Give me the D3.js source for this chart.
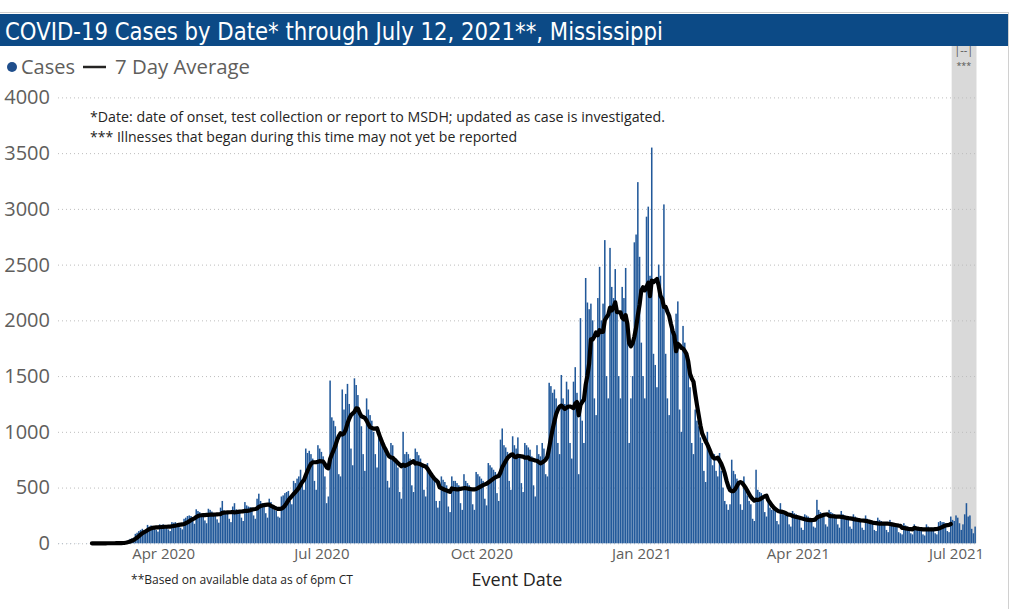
<!DOCTYPE html>
<html><head><meta charset="utf-8">
<script src="https://cdn.jsdelivr.net/npm/d3@7"></script>
<style>html,body{margin:0;padding:0;background:#fff;overflow:hidden}</style>
</head><body>
<svg id="chart" width="1029" height="609"></svg>
<script>
// ---- data: daily cases by event date ----
const feb2020 = [1,0,1,0,0,1,0,1,0,0,1,0,1,0,0,0,1,0,0,0,0,0,0,1,0,0,0,0,1];
const mar2020 = [0,1,0,2,1,3,2,4,8,12,20,28,40,45,50,85,95,110,120,130,110,100,165,150,160,155,150,120,105,170,165];
const apr2020 = [170,160,150,125,110,190,185,190,180,175,140,125,220,230,245,250,245,200,175,305,290,280,265,255,205,180,310,300,285,270];
const may2020 = [260,215,185,320,380,295,280,270,220,190,330,360,305,295,285,230,200,370,340,330,325,320,250,220,400,445,380,360,340,270,230];
const jun2020 = [400,370,330,300,290,240,230,420,430,450,460,470,380,350,560,540,580,600,660,560,480,850,810,830,800,760,560,480,880,850];
const jul2020 = [820,780,600,360,420,1460,1130,1100,1050,950,620,600,1380,1200,1340,1430,1250,850,700,1480,1420,1330,1150,1050,800,650,1300,1200,1150,1100,1000];
const aug2020 = [800,680,960,900,880,850,800,560,500,900,880,760,760,680,460,400,1000,800,820,800,760,520,460,850,820,790,760,700,480,420,720];
const sep2020 = [650,620,600,560,380,320,380,600,570,550,520,330,280,600,560,560,540,520,360,300,620,560,540,520,500,350,300,640,620,600];
const oct2020 = [580,560,400,340,720,700,680,660,640,450,380,930,1030,880,860,820,560,480,960,880,850,950,800,540,460,900,880,860,840,780,520];
const nov2020 = [420,880,800,780,900,850,620,600,1440,1410,1350,1380,1300,900,800,1510,1300,1250,1450,1380,900,760,1450,1580,1350,620,2020,1100,900,2380];
const dec2020 = [2160,2100,2150,2000,1300,1150,2200,2480,2000,2150,2720,1500,1300,2650,2300,2200,2460,2100,1500,1300,2300,2200,2470,1900,900,1300,1500,2700,2770,3240,2570];
const jan2021 = [1800,1500,1300,2930,3020,2400,3550,1700,1600,1400,2500,2400,2200,3040,1700,1300,1150,2000,1950,1900,2060,2170,1200,1000,1950,1800,1700,1600,1400,900,800];
const feb2021 = [1200,1100,1050,950,900,650,550,1000,850,780,700,800,650,600,810,650,500,380,350,300,350,750,650,620,580,540,350,300];
const mar2021 = [600,500,430,380,350,220,200,660,480,460,450,420,280,240,380,320,300,330,310,200,170,360,300,280,270,250,170,150,290,270,260];
const apr2021 = [240,220,140,120,260,250,240,230,220,150,140,390,300,280,270,260,170,150,300,280,270,260,250,170,140,290,260,250,240,230];
const may2021 = [150,130,260,240,230,220,210,140,120,250,220,200,190,180,120,110,230,210,200,190,180,120,100,210,190,180,170,160,100,90,80];
const jun2021 = [180,160,150,140,90,80,170,150,140,130,130,80,70,170,150,140,140,130,90,80,190,200,190,190,180,110,100,240,210,200];
const jul2021 = [250,230,180,120,170,260,360,240,250,130,90,150];

const firstDay = "2020-02-01";
const avgFirstDay = "2020-02-20";
const avgLastDay = "2021-06-28";
const lagFirstDay = "2021-06-29";   // grey "may not yet be reported" band
const yTicks = [0,500,1000,1500,2000,2500,3000,3500,4000];
const xTickDays = ["2020-04-01","2020-07-01","2020-10-01","2021-01-01","2021-04-01","2021-07-01"];
const xTickLabels = ["Apr 2020","Jul 2020","Oct 2020","Jan 2021","Apr 2021","Jul 2021"];

const titleText = "COVID-19 Cases by Date* through July 12, 2021**, Mississippi";
const noteLines = ["*Date: date of onset, test collection or report to MSDH; updated as case is investigated.",
                   "*** Illnesses that began during this time may not yet be reported"];
const footNote = "**Based on available data as of 6pm CT";
const xTitle = "Event Date";

// ---- build ----
const parse = d3.timeParse("%Y-%m-%d");
const values = [].concat(feb2020,mar2020,apr2020,may2020,jun2020,jul2020,aug2020,sep2020,oct2020,nov2020,dec2020,
                         jan2021,feb2021,mar2021,apr2021,may2021,jun2021,jul2021);
const start = parse(firstDay);
const data = values.map((v,i)=>({date:d3.timeDay.offset(start,i), v}));
const end = d3.timeDay.offset(data[data.length-1].date,1);
data.forEach((d,i)=>{ if(i>=6){ d.avg = d3.mean(values.slice(i-6,i+1)); } });

const svg = d3.select("#chart");
const L = 58, R = 976, Y0 = 543.3, Y4000 = 97.4;
const x = d3.scaleTime().domain([start,end]).range([L,R]);
const y = d3.scaleLinear().domain([0,4000]).range([Y0,Y4000]);
const font = "'Segoe UI','Open Sans','Noto Sans',sans-serif";

// frame lines
svg.append("line").attr("x1",0).attr("x2",1009).attr("y1",12.5).attr("y2",12.5).attr("stroke","#d0d0d0");
svg.append("line").attr("x1",1008.5).attr("x2",1008.5).attr("y1",12).attr("y2",609).attr("stroke","#d0d0d0");

// title bar
svg.append("rect").attr("x",0).attr("y",14).attr("width",1008).attr("height",32).attr("fill","#0c4a86");
svg.append("text").attr("x",5).attr("y",39.5).attr("fill","#fff")
  .attr("font-family","'Liberation Sans Narrow','DejaVu Sans Condensed','Roboto',sans-serif")
  .attr("font-size",25).attr("textLength",658).attr("lengthAdjust","spacingAndGlyphs").text(titleText);

// grey lag band
const lagStart = parse(lagFirstDay);
svg.append("rect").attr("x",x(lagStart)).attr("y",46).attr("width",x(end)-x(lagStart)+0.5).attr("height",Y0-46)
  .attr("fill","#d9d9d9");
const bandMid = (x(lagStart)+x(end))/2;
svg.append("text").attr("x",bandMid).attr("y",54).attr("text-anchor","middle").attr("font-family",font)
  .attr("font-size",11).attr("fill","#555").text("|--|");
svg.append("text").attr("x",bandMid).attr("y",69).attr("text-anchor","middle").attr("font-family",font)
  .attr("font-size",9).attr("fill","#555").text("***");

// y axis with dotted gridlines
const yAxis = svg.append("g").attr("transform",`translate(${L},0)`)
  .call(d3.axisLeft(y).tickValues(yTicks).tickSize(-(R-L+1)).tickPadding(8).tickFormat(d3.format("d")));
yAxis.select(".domain").remove();
yAxis.selectAll(".tick line").attr("stroke","#bdbdbd").attr("stroke-dasharray","1,3");
yAxis.selectAll(".tick text").attr("font-family",font).attr("font-size",20).attr("fill","#605e5c");

// bars
const bw = (R-L)/values.length;
svg.append("g").selectAll("rect").data(data).join("rect")
  .attr("x",d=>x(d.date)+0.1).attr("width",Math.max(bw-0.2,0.8))
  .attr("y",d=>y(d.v)).attr("height",d=>Y0-y(d.v))
  .attr("fill","#22599a");

// 7 day average
const a0 = parse(avgFirstDay), a1 = parse(avgLastDay);
const avgData = data.filter(d=>d.avg!==undefined && d.date>=a0 && d.date<=a1);
svg.append("path").datum(avgData)
  .attr("d",d3.line().x(d=>x(d.date)+bw/2).y(d=>y(d.avg)))
  .attr("fill","none").attr("stroke","#000").attr("stroke-width",4.2)
  .attr("stroke-linejoin","round").attr("stroke-linecap","round");

// x axis labels
const xt = xTickDays.map(s=>d3.timeHour.offset(parse(s),12));
const xAxis = svg.append("g").attr("transform",`translate(0,${Y0})`)
  .call(d3.axisBottom(x).tickValues(xt).tickSize(0).tickPadding(5).tickFormat((d,i)=>xTickLabels[i]));
xAxis.select(".domain").remove();
xAxis.selectAll(".tick text").attr("font-family",font).attr("font-size",15).attr("fill","#605e5c");

// legend
svg.append("circle").attr("cx",12).attr("cy",67).attr("r",5).attr("fill","#1f4e8c");
svg.append("text").attr("x",21).attr("y",74).attr("font-family",font).attr("font-size",20).attr("fill","#605e5c")
  .attr("textLength",54).attr("lengthAdjust","spacingAndGlyphs").text("Cases");
svg.append("line").attr("x1",83).attr("x2",106).attr("y1",67).attr("y2",67).attr("stroke","#252423").attr("stroke-width",2.5);
svg.append("text").attr("x",115).attr("y",74).attr("font-family",font).attr("font-size",20).attr("fill","#605e5c")
  .attr("textLength",135).attr("lengthAdjust","spacingAndGlyphs").text("7 Day Average");

// notes
svg.append("text").attr("x",90).attr("y",122).attr("font-family",font).attr("font-size",14).attr("fill","#252423")
  .attr("textLength",575).attr("lengthAdjust","spacingAndGlyphs").text(noteLines[0]);
svg.append("text").attr("x",90).attr("y",142).attr("font-family",font).attr("font-size",14).attr("fill","#252423")
  .attr("textLength",427).attr("lengthAdjust","spacingAndGlyphs").text(noteLines[1]);
svg.append("text").attr("x",131).attr("y",584).attr("font-family",font).attr("font-size",12).attr("fill","#252423")
  .attr("textLength",222).attr("lengthAdjust","spacingAndGlyphs").text(footNote);
svg.append("text").attr("x",517).attr("y",586).attr("text-anchor","middle").attr("font-family",font).attr("font-size",18)
  .attr("fill","#252423").text(xTitle);
</script>
</body></html>
